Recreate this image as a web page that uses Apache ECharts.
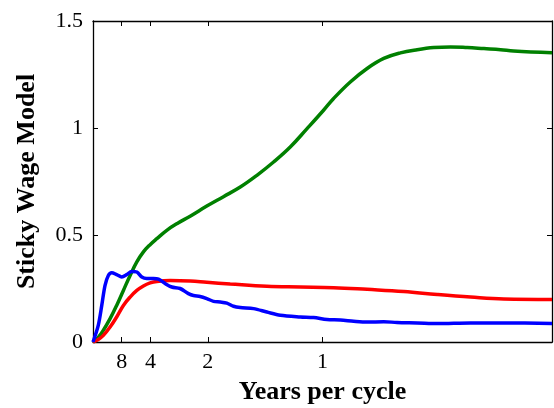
<!DOCTYPE html>
<html>
<head>
<meta charset="utf-8">
<script src="https://cdn.jsdelivr.net/npm/echarts@6/dist/echarts.min.js"></script>
<style>
  html, body { margin: 0; padding: 0; background: #fff; }
  #chart { width: 554px; height: 408px; }
</style>
</head>
<body>
<div id="chart"></div>
<script>
// Spectral density by frequency (radians per quarter), 0 .. pi
const periodTicks = [8, 4, 2, 1];           // years per cycle shown on the axis
const yTicks = [0, 0.5, 1, 1.5];

const greenFreq = [0, 0.036, 0.071, 0.117, 0.162, 0.208, 0.254, 0.300, 0.345, 0.391, 0.437, 0.505, 0.574, 0.665, 0.779, 0.893, 1.008, 1.122, 1.236, 1.350, 1.465, 1.578, 1.647, 1.761, 1.876, 1.990, 2.104, 2.219, 2.332, 2.447, 2.561, 2.676, 2.790, 2.879, 3.1416];
const greenVal  = [0, 0.022, 0.055, 0.109, 0.171, 0.241, 0.311, 0.374, 0.421, 0.455, 0.483, 0.522, 0.553, 0.588, 0.635, 0.679, 0.724, 0.779, 0.841, 0.911, 0.997, 1.083, 1.138, 1.215, 1.278, 1.325, 1.351, 1.366, 1.376, 1.379, 1.376, 1.371, 1.366, 1.360, 1.352];

const redFreq = [0, 0.036, 0.071, 0.117, 0.162, 0.208, 0.254, 0.300, 0.345, 0.391, 0.437, 0.528, 0.665, 0.779, 0.939, 1.190, 1.419, 1.647, 1.876, 2.127, 2.356, 2.584, 2.812, 3.1416];
const redVal  = [0, 0.012, 0.031, 0.070, 0.117, 0.171, 0.210, 0.241, 0.262, 0.276, 0.283, 0.287, 0.285, 0.279, 0.271, 0.260, 0.257, 0.254, 0.246, 0.236, 0.222, 0.210, 0.201, 0.199];

const blueFreq = [0, 0.036, 0.060, 0.082, 0.105, 0.128, 0.162, 0.197, 0.231, 0.265, 0.300, 0.334, 0.368, 0.414, 0.448, 0.494, 0.539, 0.596, 0.653, 0.688, 0.733, 0.779, 0.825, 0.871, 0.916, 0.962, 1.008, 1.099, 1.190, 1.282, 1.419, 1.510, 1.601, 1.693, 1.784, 1.876, 1.990, 2.081, 2.219, 2.356, 2.584, 2.812, 3.1416];
const blueVal  = [0, 0.078, 0.171, 0.264, 0.311, 0.324, 0.315, 0.304, 0.315, 0.330, 0.327, 0.304, 0.297, 0.297, 0.294, 0.273, 0.257, 0.250, 0.226, 0.217, 0.213, 0.203, 0.190, 0.187, 0.182, 0.167, 0.161, 0.156, 0.140, 0.125, 0.117, 0.114, 0.105, 0.103, 0.097, 0.093, 0.095, 0.091, 0.089, 0.086, 0.089, 0.089, 0.087];

// period p years -> frequency pi/(2p) with quarterly data
const tickFreqs = periodTicks.map(p => Math.PI / (2 * p));
const labelFor = v => {
  const i = tickFreqs.findIndex(f => Math.abs(f - v) < 1e-6);
  return i >= 0 ? String(periodTicks[i]) : '';
};

const pairs = (xs, ys) => xs.map((x, i) => [x, ys[i]]);
const font = 'Liberation Serif, Times New Roman, serif';
const boxLine = { show: true, onZero: false, lineStyle: { color: '#000', width: 1.3 } };

const chart = echarts.init(document.getElementById('chart'), null, { renderer: 'canvas' });
const lineSeries = (name, color, xs, ys, smooth) => ({
  name, type: 'line', data: pairs(xs, ys), smooth, showSymbol: false,
  lineStyle: { color, width: 3.5 }, xAxisIndex: 0, yAxisIndex: 0, z: 3
});

chart.setOption({
  animation: false,
  grid: { left: 93, top: 21, right: 2, bottom: 66, containLabel: false, outerBoundsMode: 'none' },
  xAxis: [{
    type: 'value', min: 0, max: Math.PI, position: 'bottom',
    name: 'Years per cycle', nameLocation: 'middle', nameGap: 37,
    nameTextStyle: { fontFamily: font, fontWeight: 'bold', fontSize: 26, color: '#000' },
    axisLine: boxLine,
    axisTick: { show: true, inside: true, length: 5, customValues: tickFreqs, lineStyle: { color: '#000' } },
    axisLabel: { show: true, customValues: tickFreqs, formatter: labelFor, margin: 9,
                 fontFamily: font, fontSize: 22, color: '#000' },
    splitLine: { show: false }
  }, {
    type: 'value', min: 0, max: Math.PI, position: 'top',
    axisLine: boxLine,
    axisTick: { show: true, inside: true, length: 5, customValues: tickFreqs, lineStyle: { color: '#000' } },
    axisLabel: { show: false },
    splitLine: { show: false }
  }],
  yAxis: [{
    type: 'value', min: 0, max: 1.5, interval: 0.5, position: 'left',
    name: 'Sticky Wage Model', nameLocation: 'middle', nameGap: 53,
    nameTextStyle: { fontFamily: font, fontWeight: 'bold', fontSize: 26, color: '#000' },
    axisLine: boxLine,
    axisTick: { show: true, inside: true, length: 5, customValues: yTicks, lineStyle: { color: '#000' } },
    axisLabel: { customValues: yTicks, formatter: v => String(v), margin: 10,
                 fontFamily: font, fontSize: 22, color: '#000' },
    splitLine: { show: false }
  }, {
    type: 'value', min: 0, max: 1.5, interval: 0.5, position: 'right',
    axisLine: boxLine,
    axisTick: { show: true, inside: true, length: 5, lineStyle: { color: '#000' } },
    axisLabel: { show: false },
    splitLine: { show: false }
  }],
  series: [
    lineSeries('Output', '#008000', greenFreq, greenVal, 0.4),
    lineSeries('Inflation', '#ff0000', redFreq, redVal, 0.4),
    lineSeries('Wages', '#0000ff', blueFreq, blueVal, 0.3)
  ]
});
</script>
</body>
</html>
